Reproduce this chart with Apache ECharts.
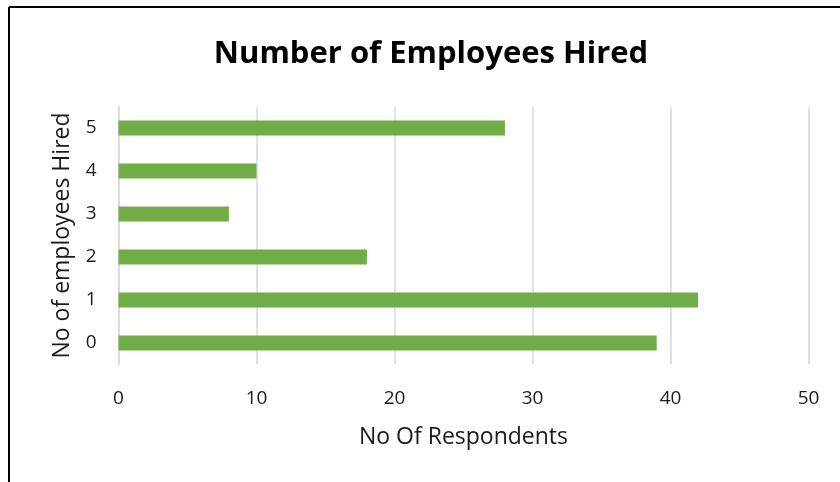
<!DOCTYPE html>
<html><head><meta charset="utf-8">
<script src="https://cdn.jsdelivr.net/npm/echarts@6/dist/echarts.min.js"></script>
<style>html,body{margin:0;padding:0;background:#fff}#c{width:840px;height:482px}</style>
</head><body><div id="c"></div>
<script>
const categories = ['0', '1', '2', '3', '4', '5'];
const values = [39, 42, 18, 8, 10, 28];
const xTicks = [0, 10, 20, 30, 40, 50];
const titleText = 'Number of Employees Hired';
const xName = 'No Of Respondents';
const yName = 'No of employees Hired';

const chart = echarts.init(document.getElementById('c'));
const font = 'Open Sans, Lato, sans-serif';
chart.setOption({
  animation: false,
  title: { text: titleText, left: 426, top: 34, textAlign: 'center',
    textStyle: { fontFamily: font, fontWeight: 'bold', fontSize: 31, color: '#000' } },
  graphic: [
    { type: 'line', shape: { x1: 9, y1: 7, x2: 840, y2: 7 }, style: { stroke: '#000', lineWidth: 2 } },
    { type: 'line', shape: { x1: 9, y1: 7, x2: 9, y2: 482 }, style: { stroke: '#000', lineWidth: 2 } }
  ],
  grid: { left: 118.5, right: 31.5, top: 106.5, bottom: 117.5, containLabel: false },
  xAxis: {
    type: 'value', min: xTicks[0], max: xTicks[xTicks.length - 1], interval: 10,
    name: xName, nameLocation: 'middle', nameGap: 61,
    nameTextStyle: { fontFamily: font, fontSize: 23, color: '#1a1a1a' },
    axisLine: { show: false }, axisTick: { show: false },
    axisLabel: { fontFamily: font, fontSize: 19, color: '#1a1a1a', margin: 25 },
    splitLine: { show: true, lineStyle: { color: '#d9d9d9', width: 1.5 } }
  },
  yAxis: {
    type: 'category', data: categories,
    name: yName, nameLocation: 'middle', nameGap: 45, nameRotate: 90,
    nameTextStyle: { fontFamily: font, fontSize: 23, color: '#1a1a1a' },
    axisLine: { show: true, lineStyle: { color: '#d9d9d9', width: 1.5 } },
    axisTick: { show: false },
    axisLabel: { fontFamily: font, fontSize: 19, color: '#1a1a1a', margin: 22 }
  },
  series: [{ type: 'bar', data: values, barWidth: 15, itemStyle: { color: '#70ad47' } }]
});
</script></body></html>
